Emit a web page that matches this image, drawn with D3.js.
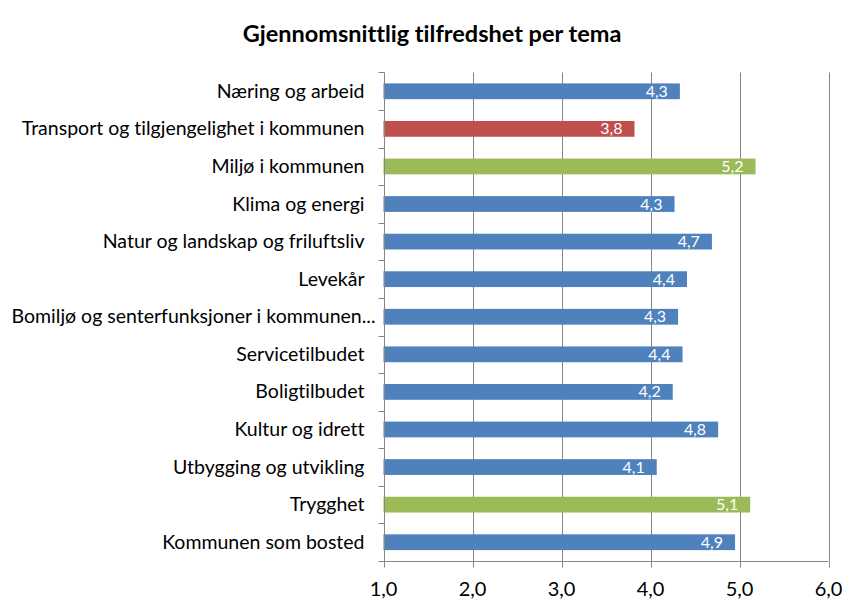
<!DOCTYPE html>
<html><head><meta charset="utf-8">
<script src="https://cdn.jsdelivr.net/npm/d3@7"></script>
<style>body{margin:0;background:#fff}svg{display:block}text{font-family:Lato,"Open Sans",sans-serif;font-variant-ligatures:none}</style>
</head><body><svg id="c" width="865" height="614"></svg>
<script>
const categories = ["Næring og arbeid","Transport og tilgjengelighet i kommunen","Miljø i kommunen","Klima og energi","Natur og landskap og friluftsliv","Levekår","Bomiljø og senterfunksjoner i kommunen...","Servicetilbudet","Boligtilbudet","Kultur og idrett","Utbygging og utvikling","Trygghet","Kommunen som bosted"];
const values = [4.33,3.82,5.18,4.27,4.69,4.41,4.31,4.36,4.25,4.76,4.07,5.12,4.95];
const labels = ["4,3","3,8","5,2","4,3","4,7","4,4","4,3","4,4","4,2","4,8","4,1","5,1","4,9"];
const colorGroup = ["blue","red","green","blue","blue","blue","blue","blue","blue","blue","blue","green","blue"];
const tickValues = [1,2,3,4,5,6];
const tickLabels = ["1,0","2,0","3,0","4,0","5,0","6,0"];
const title = "Gjennomsnittlig tilfredshet per tema";

const palette = {blue:"#4F81BD", red:"#C0504D", green:"#9BBB59"};
const svg = d3.select("#c");
const m = {left:383.5, right:828.5, top:72.5, bottom:561};
const x = d3.scaleLinear().domain([1,6]).range([m.left, m.right]);
const y = d3.scaleBand().domain(categories).range([m.top, m.bottom]).paddingInner(0.58).paddingOuter(0.29);
const band = d3.scaleBand().domain(categories).range([m.top, m.bottom]);

svg.append("text").attr("x",432).attr("y",42).attr("text-anchor","middle")
  .attr("font-size",23.5).attr("font-weight","bold").attr("fill","#000").text(title);

// gridlines
svg.append("g").selectAll("line").data(tickValues.slice(1)).join("line")
  .attr("x1",d=>Math.round(x(d))+0.5).attr("x2",d=>Math.round(x(d))+0.5)
  .attr("y1",m.top).attr("y2",m.bottom).attr("stroke","#868686").attr("stroke-width",1);

// bars
svg.append("g").selectAll("rect").data(categories).join("rect")
  .attr("x",x(1)).attr("y",d=>y(d)).attr("height",y.bandwidth())
  .attr("width",(d,i)=>x(values[i])-x(1)).attr("fill",(d,i)=>palette[colorGroup[i]]);

// value labels
svg.append("g").selectAll("text").data(categories).join("text")
  .attr("x",(d,i)=>x(values[i])-12).attr("y",d=>y(d)+y.bandwidth()/2+5.5)
  .attr("text-anchor","end").attr("font-size",16).attr("fill","#fff")
  .text((d,i)=>labels[i]);

// y axis
const ya = svg.append("g").attr("transform",`translate(${Math.round(m.left)+0.5},0)`);
ya.append("line").attr("y1",m.top).attr("y2",m.bottom).attr("stroke","#868686");
const yt = band.domain().map(d=>band(d)).concat([m.bottom]);
ya.selectAll("line.t").data(yt).join("line").attr("class","t")
  .attr("x1",-6).attr("x2",0).attr("y1",d=>Math.round(d)+0.5).attr("y2",d=>Math.round(d)+0.5).attr("stroke","#868686");
ya.selectAll("text").data(categories).join("text")
  .attr("x",d=>d.endsWith("...")?-9:-20).attr("y",d=>band(d)+band.bandwidth()/2+6.5)
  .attr("text-anchor","end").attr("font-size",19.5).attr("fill","#000").text(d=>d);

// x axis
const xa = svg.append("g").attr("transform",`translate(0,${m.bottom+0.5})`);
xa.append("line").attr("x1",m.left).attr("x2",m.right).attr("stroke","#868686");
xa.selectAll("line.t").data(tickValues).join("line").attr("class","t")
  .attr("x1",d=>Math.round(x(d))+0.5).attr("x2",d=>Math.round(x(d))+0.5).attr("y1",0).attr("y2",6).attr("stroke","#868686");
xa.selectAll("text").data(tickValues).join("text")
  .attr("x",d=>x(d)).attr("y",34).attr("text-anchor","middle").attr("font-size",20).attr("fill","#000")
  .text((d,i)=>tickLabels[i]);
</script></body></html>
